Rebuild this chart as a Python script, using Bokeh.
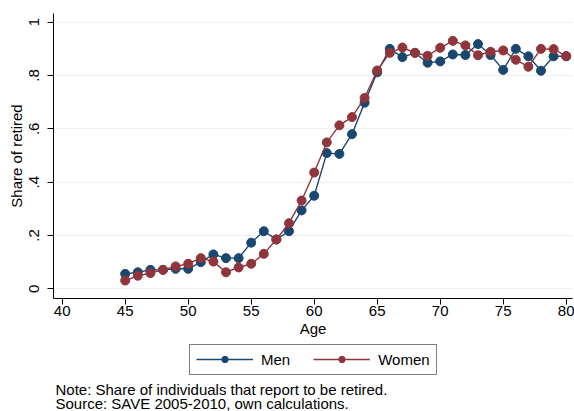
from bokeh.plotting import figure
from bokeh.layouts import column
from bokeh.models import FixedTicker, Legend, LegendItem, Label, ColumnDataSource
from bokeh.embed import file_html
from bokeh.resources import INLINE

ages = list(range(45, 81))
men = [0.056, 0.062, 0.071, 0.071, 0.075, 0.075, 0.100, 0.129, 0.115, 0.115,
       0.173, 0.216, 0.185, 0.216, 0.294, 0.349, 0.509, 0.506, 0.580, 0.698,
       0.812, 0.900, 0.869, 0.885, 0.848, 0.853, 0.879, 0.877, 0.918, 0.877,
       0.821, 0.900, 0.872, 0.818, 0.872, 0.872]
women = [0.031, 0.049, 0.059, 0.071, 0.084, 0.094, 0.115, 0.102, 0.062, 0.080,
         0.094, 0.131, 0.185, 0.246, 0.331, 0.436, 0.549, 0.613, 0.644, 0.716,
         0.819, 0.885, 0.905, 0.885, 0.874, 0.904, 0.930, 0.913, 0.876, 0.889,
         0.894, 0.859, 0.833, 0.900, 0.899, 0.873]
x_ticks = [40, 45, 50, 55, 60, 65, 70, 75, 80]
y_ticks = [0, 0.2, 0.4, 0.6, 0.8, 1.0]
y_tick_labels = ["0", ".2", ".4", ".6", ".8", "1"]
series_names = ["Men", "Women"]
note_lines = ["Note: Share of individuals that report to be retired.",
              "Source: SAVE 2005-2010, own calculations."]

FONT = "Liberation Sans"
NAVY = "#1a476f"
MAROON = "#90353b"
W = 574
H_MAIN = 342
H_FOOT = 411 - H_MAIN
LEFT = 53

src = ColumnDataSource(dict(age=ages, men=men, women=women))

p = figure(width=W, height=H_MAIN, output_backend="svg", toolbar_location=None,
           x_range=(39.31, 80.5), y_range=(-0.0364, 1.0326),
           min_border_left=LEFT, min_border_right=2, min_border_top=13, min_border_bottom=44,
           background_fill_color="white", border_fill_color="white")
p.outline_line_color = None

p.line("age", "men", source=src, line_color=NAVY, line_width=1.4)
p.scatter("age", "men", source=src, size=9, fill_color=NAVY, line_color=NAVY)
p.line("age", "women", source=src, line_color=MAROON, line_width=1.4)
p.scatter("age", "women", source=src, size=9, fill_color=MAROON, line_color=MAROON)

# axes
p.xaxis.ticker = FixedTicker(ticks=x_ticks)
p.yaxis.ticker = FixedTicker(ticks=y_ticks)
p.yaxis.major_label_overrides = {t: l for t, l in zip(y_ticks, y_tick_labels)}
p.yaxis.major_label_orientation = "vertical"
for ax in (p.xaxis[0], p.yaxis[0]):
    ax.axis_line_color = "black"
    ax.axis_line_width = 1
    ax.major_tick_line_color = "black"
    ax.major_tick_out = 6
    ax.major_tick_in = 0
    ax.minor_tick_out = 0
    ax.minor_tick_in = 0
    ax.major_label_text_font = FONT
    ax.major_label_text_font_size = "15px"
    ax.major_label_text_color = "black"
    ax.axis_label_text_font = FONT
    ax.axis_label_text_font_size = "15px"
    ax.axis_label_text_font_style = "normal"
    ax.axis_label_text_color = "black"
p.xaxis.axis_label = "Age"
p.yaxis.axis_label = "Share of retired"
p.xaxis.major_label_standoff = 1
p.xaxis.axis_label_standoff = 1
p.yaxis.major_label_standoff = 8
p.yaxis.axis_label_standoff = 2

p.xgrid.visible = False
p.ygrid.grid_line_color = "#eaf2f3"
p.ygrid.grid_line_width = 1

# footer: legend and notes (its frame is aligned with the main frame).
# The legend's renderers hold the same data but lie outside the footer's view.
f = figure(width=W, height=H_FOOT, output_backend="svg", toolbar_location=None,
           x_axis_type=None, y_axis_type=None, x_range=(0, 1), y_range=(5, 6),
           min_border_left=LEFT, min_border_right=2, min_border_top=0, min_border_bottom=0,
           background_fill_color="white", border_fill_color="white")
f.outline_line_color = None
f.grid.visible = False

lm = f.line("age", "men", source=src, line_color=NAVY, line_width=1.4)
sm = f.scatter("age", "men", source=src, size=9, fill_color=NAVY, line_color=NAVY)
lw = f.line("age", "women", source=src, line_color=MAROON, line_width=1.4)
sw = f.scatter("age", "women", source=src, size=9, fill_color=MAROON, line_color=MAROON)

legend = Legend(items=[LegendItem(label=series_names[0], renderers=[lm, sm]),
                       LegendItem(label=series_names[1], renderers=[lw, sw])],
                orientation="horizontal", location=(189 - LEFT, 411 - 374.5),
                border_line_color="black", border_line_width=1,
                glyph_width=57, glyph_height=16, label_height=16, label_width=10,
                label_standoff=8, spacing=23, padding=6, margin=0,
                label_text_font=FONT, label_text_font_size="15px",
                label_text_color="black",
                background_fill_color="white")
f.add_layout(legend, "center")

for i, line in enumerate(note_lines):
    lab = Label(text=line, x=55 - LEFT, y=22 - 14 * i, x_units="screen", y_units="screen",
                text_baseline="middle", text_align="left",
                text_font=FONT, text_font_size="15px", text_color="black")
    f.add_layout(lab)

layout = column(p, f, spacing=0)
open("out.html", "w").write(file_html(layout, INLINE))
